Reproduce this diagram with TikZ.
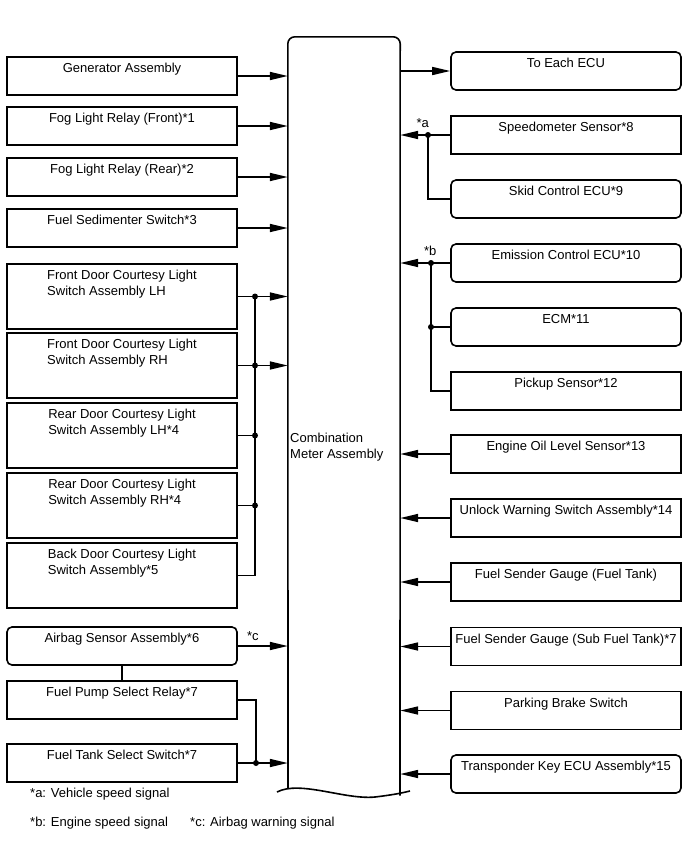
\documentclass[tikz,border=0pt]{standalone}
\usepackage{fontspec}
\setmainfont{Liberation Sans}
\usetikzlibrary{positioning, calc, arrows.meta}
\tikzstyle{Arrow} = [
%Create custom arrow style:
line width=1.6pt,
-{Triangle[length=18pt, width=8pt]}
]
\tikzstyle{Wire} = [line width=1.6pt]

\begin{document}
\begin{tikzpicture}[x=1pt, y=-1pt,
				font=\fontsize{13}{16}\selectfont,
				part/.style = {rectangle, draw, line width=1.6pt, inner sep=0pt, minimum width=230pt, minimum height=38pt,
					label={[anchor=north, inner sep=0pt, yshift=-7pt, align=left]north:#1}},
				ecu/.style = {part=#1, rounded corners=5pt},
				tallpart/.style = {part=#1, minimum height=65pt},
				note/.style = {inner sep=0pt, anchor=west},
			]
			\useasboundingbox (0,0) rectangle (688,852);

			% combination meter
			\node[minimum width=112pt, minimum height=750pt, inner sep=0pt](CMA) at (344,412){};
			\node[note, align=left](CMAtext) at (290,447){Combination\\Meter Assembly};
			\draw[Wire, rounded corners=7pt](288,788)--(CMA.north west)--(CMA.north east)--(400,795.5);
			\draw[Wire](277,792) .. controls (300,780) and (345,800) .. (375,797) .. controls (392,795) and (402,793) .. (410,791);

			% left side
			\node[part={Generator Assembly}](Gen) at (122,76){};
			\node[part={Fog Light Relay (Front)*1}](FogF) at (122,126){};
			\node[part={Fog Light Relay (Rear)*2}](FogR) at (122,177){};
			\node[part={Fuel Sedimenter Switch*3}](Sed) at (122,228){};
			\node[tallpart={Front Door Courtesy Light\\Switch Assembly LH}](FDLH) at (122,296.5){};
			\node[tallpart={Front Door Courtesy Light\\Switch Assembly RH}](FDRH) at (122,365.5){};
			\node[tallpart={Rear Door Courtesy Light\\Switch Assembly LH*4}](RDLH) at (122,435.5){};
			\node[tallpart={Rear Door Courtesy Light\\Switch Assembly RH*4}](RDRH) at (122,505.5){};
			\node[tallpart={Back Door Courtesy Light\\Switch Assembly*5}](BDR) at (122,575.5){};
			\node[ecu={Airbag Sensor Assembly*6}](Airbag) at (122,646){};
			\node[part={Fuel Pump Select Relay*7}](PumpRly) at (122,700){};
			\node[part={Fuel Tank Select Switch*7}](TankSw) at (122,763){};

			\coordinate(Door) at (255,0);
			\coordinate(Tank) at (256,0);

			\draw[Arrow](Gen.east)--(Gen.east -| CMA.west);
			\draw[Arrow](FogF.east)--(FogF.east -| CMA.west);
			\draw[Arrow](FogR.east)--(FogR.east -| CMA.west);
			\draw[Arrow](Sed.east)--(Sed.east -| CMA.west);
			\draw[Arrow](FDLH.east)--(FDLH.east -| CMA.west);
			\draw[Arrow](FDRH.east)--(FDRH.east -| CMA.west);
			\draw[Wire](BDR.east)-|(Door |- FDLH.east);
			\draw[Wire](RDLH.east)--(RDLH.east -| Door);
			\draw[Wire](RDRH.east)--(RDRH.east -| Door);
			\foreach \n in {FDLH, FDRH, RDLH, RDRH}
				\fill(\n.east -| Door) circle (3pt);

			\draw[Arrow](Airbag.east)--node[above, pos=0.3, yshift=1pt]{*c}(Airbag.east -| CMA.west);
			\draw[Wire](Airbag)--(PumpRly);
			\draw[Wire](PumpRly.east)-|(Tank |- TankSw.east);
			\draw[Arrow](TankSw.east)--(TankSw.east -| CMA.west);
			\fill(TankSw.east -| Tank) circle (3pt);

			% right side
			\node[ecu={To Each ECU}](ToECU) at (566,71){};
			\node[part={Speedometer Sensor*8}](Speedo) at (566,135){};
			\node[ecu={Skid Control ECU*9}](Skid) at (566,199){};
			\node[ecu={Emission Control ECU*10}](Emis) at (566,263){};
			\node[ecu={ECM*11}](ECM) at (566,327){};
			\node[part={Pickup Sensor*12}](Pickup) at (566,391){};
			\node[part={Engine Oil Level Sensor*13}](Oil) at (566,454){};
			\node[part={Unlock Warning Switch Assembly*14}](Unlock) at (566,518){};
			\node[part={Fuel Sender Gauge (Fuel Tank)}](Sender) at (566,582){};
			\node[part={Fuel Sender Gauge (Sub Fuel Tank)*7}](SubSender) at (566,646.5){};
			\node[part={Parking Brake Switch}](Parking) at (566,710.5){};
			\node[ecu={Transponder Key ECU Assembly*15}](Transp) at (566,774){};

			\coordinate(Speed) at (428,0);
			\coordinate(Engine) at (431,0);

			\draw[Arrow](ToECU.west -| CMA.east)--(ToECU.west);
			\draw[Arrow](Speedo.west)--node[above, pos=0.55, yshift=3pt]{*a}(Speedo.west -| CMA.east);
			\draw[Wire](Skid.west)-|(Speed |- Speedo.west);
			\fill(Speedo.west -| Speed) circle (3pt);
			\draw[Arrow](Emis.west)--node[above, pos=0.4, yshift=3pt]{*b}(Emis.west -| CMA.east);
			\draw[Wire](Pickup.west)-|(Engine |- Emis.west);
			\draw[Wire](ECM.west)--(ECM.west -| Engine);
			\fill(Emis.west -| Engine) circle (3pt);
			\fill(ECM.west -| Engine) circle (3pt);
			\foreach \n in {Oil, Unlock, Sender, SubSender, Parking, Transp}
				\draw[Arrow](\n.west)--(\n.west -| CMA.east);

			% notes
			\node[note](NoteA) at (30,794){*a: Vehicle speed signal};
			\node[note](NoteB) at (30,823){*b: Engine speed signal};
			\node[note](NoteC) at (190,823){*c: Airbag warning signal};

		\end{tikzpicture}
\end{document}
